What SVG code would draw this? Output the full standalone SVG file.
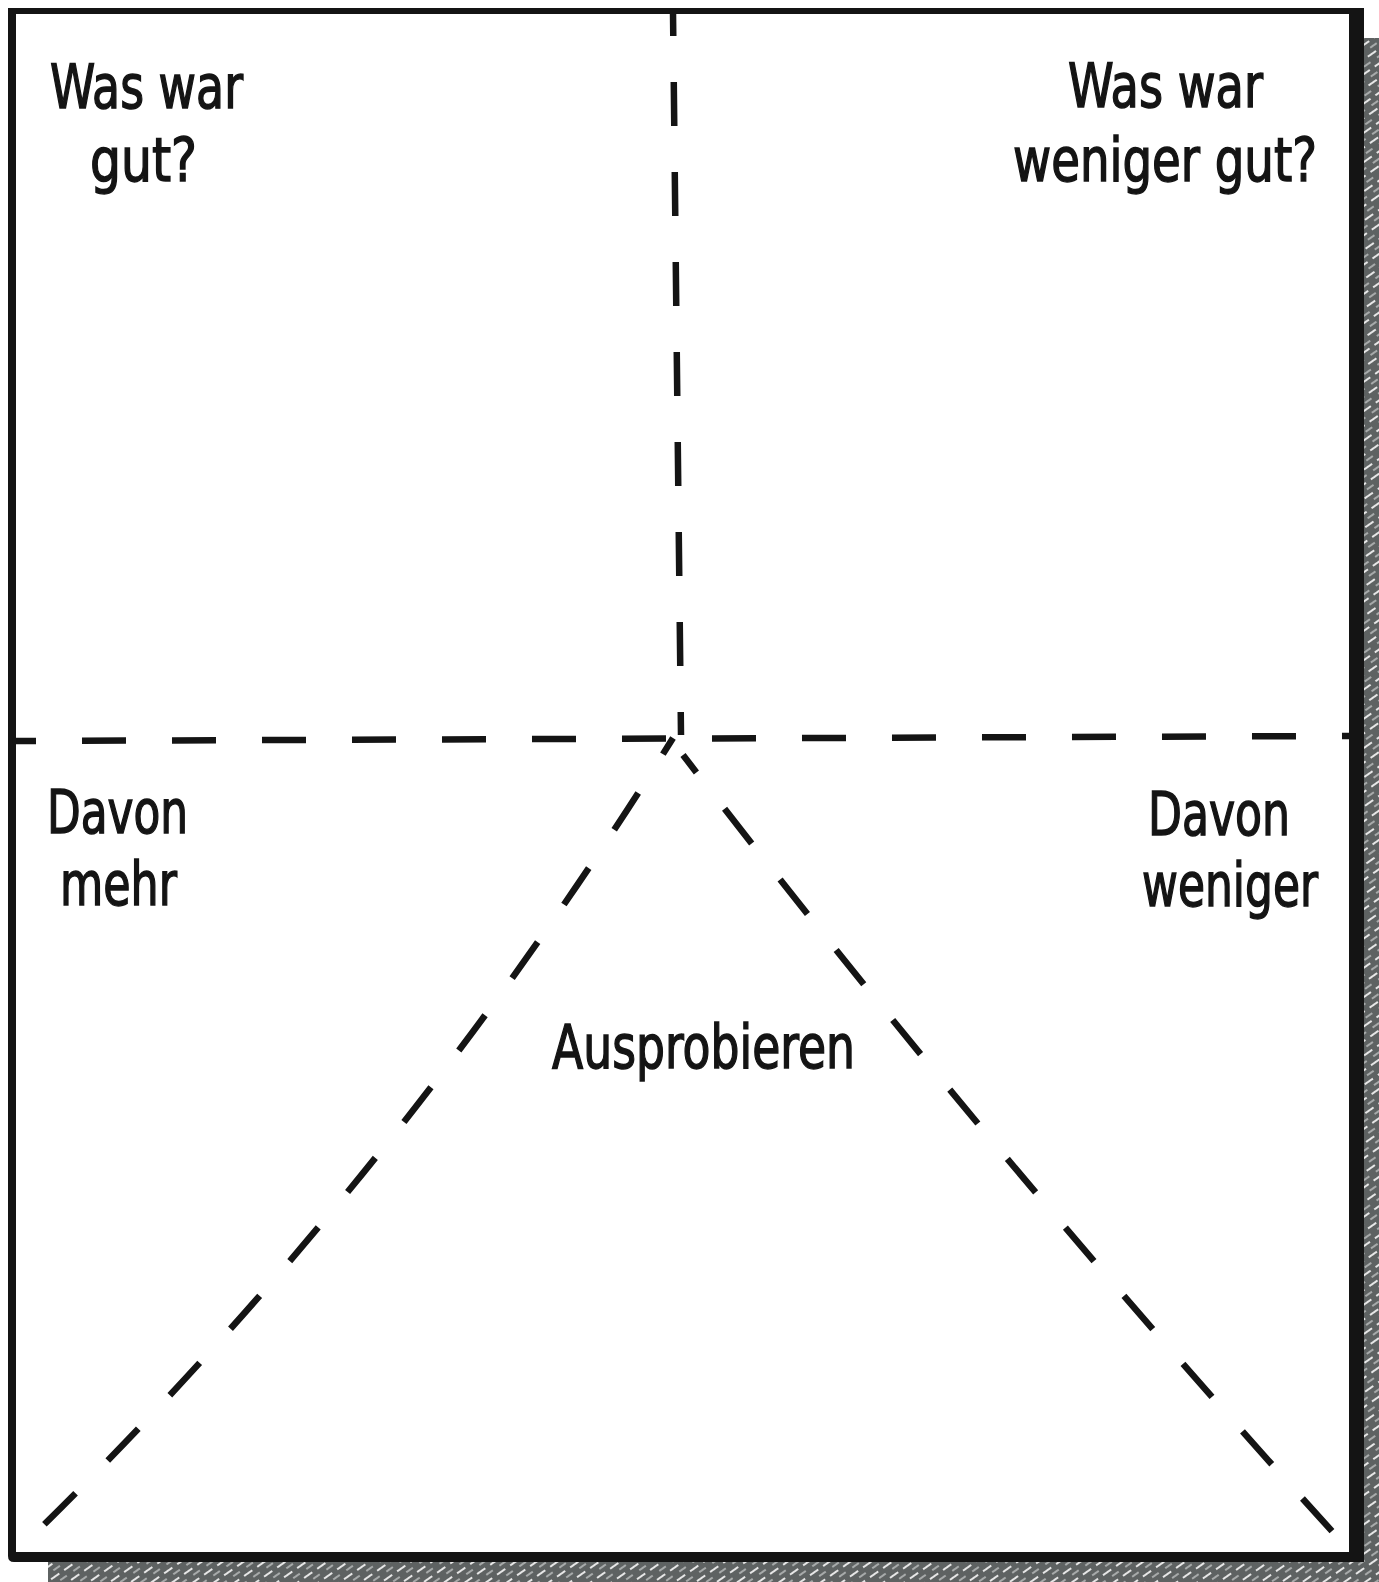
<svg xmlns="http://www.w3.org/2000/svg" width="1379" height="1582" viewBox="0 0 1379 1582">
  <style>
    .lbl { font-family: "DejaVu Sans Condensed", "DejaVu Sans", "Liberation Sans", sans-serif; font-size: 60px; fill: #141414; stroke: #141414; stroke-width: 1.4; }
    .dash { fill: none; stroke: #141414; stroke-width: 6.5; stroke-linecap: butt; stroke-dasharray: 44 46; }
  </style>
  <defs>
    <pattern id="hatch" patternUnits="userSpaceOnUse" width="16" height="12" patternTransform="rotate(-35)">
      <rect width="16" height="12" fill="#5e6262"/>
      <line x1="0" y1="3" x2="10" y2="3" stroke="#e6e6e6" stroke-width="2"/>
      <line x1="7" y1="9" x2="15" y2="9" stroke="#bfc3c3" stroke-width="1.5"/>
    </pattern>
  </defs>
  <rect width="1379" height="1582" fill="#ffffff"/>

  <g id="shadow">
    <rect x="1363" y="38" width="16" height="1544" fill="url(#hatch)"/>
    <rect x="48" y="1561" width="1331" height="21" fill="url(#hatch)"/>
  </g>

  <g id="frame">
    <path d="M8 8 H1364 V1562 H14 Q8 1562 8 1556 Z M16 14 V1552 H1349 V14 Z" fill="#141414" fill-rule="evenodd"/>
  </g>

  <g id="connectors">
    <path class="dash" d="M673 12 L681 735" stroke-dashoffset="20"/>
    <path class="dash" d="M13 741 L1349 736" stroke-dashoffset="21"/>
    <path class="dash" d="M673 738 Q394 1186 15 1553" stroke-dashoffset="25"/>
    <path class="dash" d="M683 755 Q996 1162 1350 1551" stroke-dashoffset="22"/>
  </g>

  <g id="node-gut">
    <text class="lbl" x="50" y="108" textLength="193" lengthAdjust="spacingAndGlyphs">Was war</text>
    <text class="lbl" x="90" y="181" textLength="107" lengthAdjust="spacingAndGlyphs">gut?</text>
  </g>
  <g id="node-weniger-gut">
    <text class="lbl" x="1068" y="107" textLength="195" lengthAdjust="spacingAndGlyphs">Was war</text>
    <text class="lbl" x="1013" y="181" textLength="304" lengthAdjust="spacingAndGlyphs">weniger gut?</text>
  </g>
  <g id="node-mehr">
    <text class="lbl" x="47" y="833" textLength="141" lengthAdjust="spacingAndGlyphs">Davon</text>
    <text class="lbl" x="60" y="905" textLength="117" lengthAdjust="spacingAndGlyphs">mehr</text>
  </g>
  <g id="node-weniger">
    <text class="lbl" x="1148" y="835" textLength="142" lengthAdjust="spacingAndGlyphs">Davon</text>
    <text class="lbl" x="1142" y="906" textLength="176" lengthAdjust="spacingAndGlyphs">weniger</text>
  </g>
  <g id="node-ausprobieren">
    <text class="lbl" x="552" y="1068" textLength="303" lengthAdjust="spacingAndGlyphs">Ausprobieren</text>
  </g>
</svg>
